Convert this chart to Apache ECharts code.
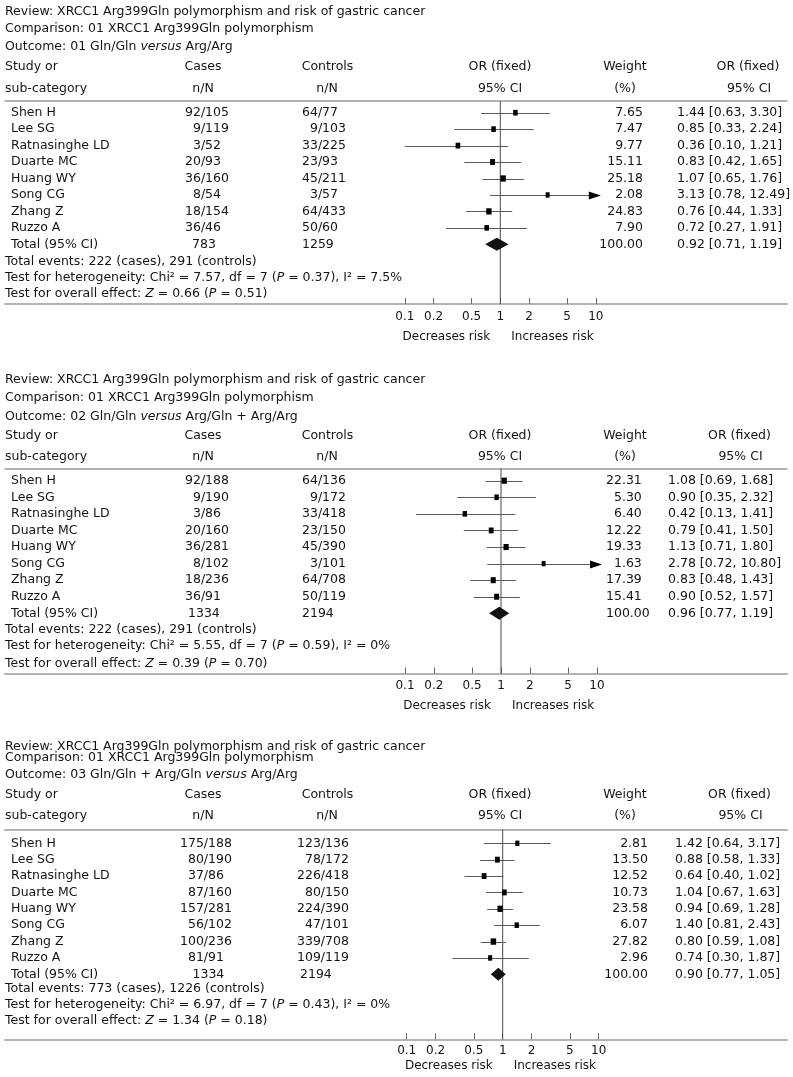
<!DOCTYPE html>
<html>
<head>
<meta charset="utf-8">
<script src="https://cdn.jsdelivr.net/npm/echarts@6/dist/echarts.min.js"></script>
<style>
html,body{margin:0;padding:0;background:#fff;}
#c{width:793px;height:1077px;}
</style>
</head>
<body>
<div id="c"></div>
<script>
// ---------------- DATA ----------------
const studies = ['Shen H', 'Lee SG', 'Ratnasinghe LD', 'Duarte MC', 'Huang WY', 'Song CG', 'Zhang Z', 'Ruzzo A'];
const tickValues = [0.1, 0.2, 0.5, 1, 2, 5, 10];
const nullOR = 1;

const outcomeLabels = [
  '01 Gln/Gln {i|versus} Arg/Arg',
  '02 Gln/Gln {i|versus} Arg/Gln + Arg/Arg',
  '03 Gln/Gln + Arg/Gln {i|versus} Arg/Arg'
];

// Outcome 01
const cases1 = ['92/105', '9/119', '3/52', '20/93', '36/160', '8/54', '18/154', '36/46'];
const controls1 = ['64/77', '9/103', '33/225', '23/93', '45/211', '3/57', '64/433', '50/60'];
const weight1 = [7.65, 7.47, 9.77, 15.11, 25.18, 2.08, 24.83, 7.90];
const or1 = [1.44, 0.85, 0.36, 0.83, 1.07, 3.13, 0.76, 0.72];
const lo1 = [0.63, 0.33, 0.10, 0.42, 0.65, 0.78, 0.44, 0.27];
const hi1 = [3.30, 2.24, 1.21, 1.65, 1.76, 12.49, 1.33, 1.91];

// Outcome 02
const cases2 = ['92/188', '9/190', '3/86', '20/160', '36/281', '8/102', '18/236', '36/91'];
const controls2 = ['64/136', '9/172', '33/418', '23/150', '45/390', '3/101', '64/708', '50/119'];
const weight2 = [22.31, 5.30, 6.40, 12.22, 19.33, 1.63, 17.39, 15.41];
const or2 = [1.08, 0.90, 0.42, 0.79, 1.13, 2.78, 0.83, 0.90];
const lo2 = [0.69, 0.35, 0.13, 0.41, 0.71, 0.72, 0.48, 0.52];
const hi2 = [1.68, 2.32, 1.41, 1.50, 1.80, 10.80, 1.43, 1.57];

// Outcome 03
const cases3 = ['175/188', '80/190', '37/86', '87/160', '157/281', '56/102', '100/236', '81/91'];
const controls3 = ['123/136', '78/172', '226/418', '80/150', '224/390', '47/101', '339/708', '109/119'];
const weight3 = [2.81, 13.50, 12.52, 10.73, 23.58, 6.07, 27.82, 2.96];
const or3 = [1.42, 0.88, 0.64, 1.04, 0.94, 1.40, 0.80, 0.74];
const lo3 = [0.64, 0.58, 0.40, 0.67, 0.69, 0.81, 0.59, 0.30];
const hi3 = [3.17, 1.33, 1.02, 1.63, 1.28, 2.43, 1.08, 1.87];

// Totals / tests per outcome
const totalCases = [783, 1334, 1334];
const totalControls = [1259, 2194, 2194];
const totalOR = [0.92, 0.96, 0.90];
const totalLo = [0.71, 0.77, 0.77];
const totalHi = [1.19, 1.19, 1.05];
const eventsCases = [222, 222, 773];
const eventsControls = [291, 291, 1226];
const chi2 = ['7.57', '5.55', '6.97'];
const dfHet = [7, 7, 7];
const pHet = ['0.37', '0.59', '0.43'];
const i2 = ['7.5%', '0%', '0%'];
const zOverall = ['0.66', '0.39', '1.34'];
const pOverall = ['0.51', '0.70', '0.18'];

// ---------------- LAYOUT / STYLE ----------------
const FONT = 'DejaVu Sans';
const FS = 12.5;
const INK = '#141414';
const RULE = '#9a9a9a';
const PAGE_LEFT = 5, PAGE_RIGHT = 787;
const FIG = '\u2007';
const LAYOUT = [
  {title: [11.7, 29, 46.5], hdr: [66.7, 88.3], rule: 101, y0: 112.7, pitch: 16.45, foot: [261.7, 277.7, 293.3],
   axis: 304, tickLab: 316.7, risk: 337, c: 500.3, d: 95.5,
   casesX: 185, ctrlX: 302, pad: 2, totCasesX: 192, totCtrlX: 302,
   wAlign: 'right', wX: 643, orX: 677, orHdrX: 748},
  {title: [380, 397.5, 416.7], hdr: [436.2, 456.7], rule: 468.5, y0: 480.7, pitch: 16.58, foot: [630, 645.5, 663.5],
   axis: 673.5, tickLab: 686, risk: 706, c: 501, d: 96,
   casesX: 185, ctrlX: 302, pad: 2, totCasesX: 188, totCtrlX: 302,
   wAlign: 'left', wX: 606, orX: 668, orHdrX: 739.5},
  {title: [746.7, 757.5, 775], hdr: [795, 815.3], rule: 829.5, y0: 843.3, pitch: 16.38, foot: [988.3, 1004.5, 1020.7],
   axis: 1039.3, tickLab: 1050.7, risk: 1066, c: 502.7, d: 96,
   casesX: 180, ctrlX: 297, pad: 3, totCasesX: 192.5, totCtrlX: 300,
   wAlign: 'right', wX: 648, orX: 675, orHdrX: 739.5}
];

const PANELS = [
  {cases: cases1, controls: controls1, weight: weight1, or: or1, lo: lo1, hi: hi1},
  {cases: cases2, controls: controls2, weight: weight2, or: or2, lo: lo2, hi: hi2},
  {cases: cases3, controls: controls3, weight: weight3, or: or3, lo: lo3, hi: hi3}
];

const log10 = Math.log10;
const logTicks = tickValues.map(log10);
const ARROW_LIMIT = log10(tickValues[tickValues.length - 1]);

function padFrac(s, n) {
  const parts = s.split('/');
  return parts[0].padStart(n, FIG) + '/' + parts[1];
}
function ciText(o, l, h) {
  return o.toFixed(2) + ' [' + l.toFixed(2) + ', ' + h.toFixed(2) + ']';
}

function studyItem(params, api) {
  const row = api.value(0), est = api.value(1), lo = api.value(2), hi = api.value(3), wt = api.value(4);
  const arrow = hi > ARROW_LIMIT;
  const pE = api.coord([est, row]);
  const pL = api.coord([lo, row]);
  const pH = api.coord([arrow ? ARROW_LIMIT : hi, row]);
  const y = Math.round(pE[1]) + 0.5;
  const children = [];
  const x2 = arrow ? pH[0] + 2 : pH[0];
  children.push({type: 'line', shape: {x1: pL[0], y1: y, x2: x2, y2: y},
    style: {stroke: '#5a5a5a', lineWidth: 1}});
  const bw = 3.4 + Math.sqrt(wt) * 0.4;
  const bh = 5 + Math.sqrt(wt) * 0.25;
  children.push({type: 'rect', shape: {x: pE[0] - bw / 2, y: pE[1] - bh / 2, width: bw, height: bh},
    style: {fill: '#000'}});
  if (arrow) {
    const tip = pH[0] + 5;
    children.push({type: 'polygon', shape: {points: [[tip - 12, y - 4], [tip, y], [tip - 12, y + 4]]},
      style: {fill: '#000'}});
  }
  return {type: 'group', children: children};
}

function diamondItem(params, api) {
  const row = api.value(0);
  const pE = api.coord([api.value(1), row]);
  const pL = api.coord([api.value(2), row]);
  const pH = api.coord([api.value(3), row]);
  const h = 6.5;
  return {type: 'polygon', shape: {points: [[pL[0] - 1, pE[1]], [pE[0], pE[1] - h], [pH[0] + 1, pE[1]], [pE[0], pE[1] + h]]},
    style: {fill: '#111'}};
}

const grids = [], xAxes = [], yAxes = [], series = [];
PANELS.forEach(function (P, p) {
  const L = LAYOUT[p];
  const xmin = (PAGE_LEFT - L.c) / L.d, xmax = (PAGE_RIGHT - L.c) / L.d;
  const ymin = (L.rule - L.y0) / L.pitch, ymax = (L.axis - L.y0) / L.pitch;
  grids.push({left: PAGE_LEFT, width: PAGE_RIGHT - PAGE_LEFT, top: L.rule, height: L.axis - L.rule});
  xAxes.push({
    type: 'value', gridIndex: p, position: 'bottom', min: xmin, max: xmax,
    splitLine: {show: false},
    axisLine: {show: true, onZero: false, lineStyle: {color: RULE, width: 1.6}},
    axisTick: {show: true, inside: true, length: 6, customValues: logTicks, lineStyle: {color: '#666', width: 1}},
    axisLabel: {show: true, customValues: logTicks, margin: L.tickLab - L.axis - 6, fontSize: 12,
      fontFamily: FONT, color: INK, hideOverlap: false,
      formatter: function (v) { return String(Math.round(Math.pow(10, v) * 10) / 10); }}
  });
  xAxes.push({
    type: 'value', gridIndex: p, position: 'top', min: xmin, max: xmax,
    splitLine: {show: false},
    axisLine: {show: true, onZero: false, lineStyle: {color: RULE, width: 1.6}},
    axisTick: {show: false}, axisLabel: {show: false}
  });
  yAxes.push({type: 'value', gridIndex: p, inverse: true, min: ymin, max: ymax, show: false});

  series.push({
    type: 'line', xAxisIndex: 2 * p, yAxisIndex: p, z: 1, silent: true, symbol: 'none',
    lineStyle: {color: '#4a4a4a', width: 1},
    data: [[log10(nullOR), ymin], [log10(nullOR), ymax]]
  });
  series.push({
    type: 'custom', xAxisIndex: 2 * p, yAxisIndex: p, z: 3, silent: true,
    renderItem: studyItem,
    encode: {x: [1, 2, 3], y: 0},
    data: studies.map(function (s, i) {
      return [i, log10(P.or[i]), log10(P.lo[i]), log10(P.hi[i]), P.weight[i]];
    })
  });
  series.push({
    type: 'custom', xAxisIndex: 2 * p, yAxisIndex: p, z: 3, silent: true,
    renderItem: diamondItem,
    encode: {x: [1, 2, 3], y: 0},
    data: [[studies.length, log10(totalOR[p]), log10(totalLo[p]), log10(totalHi[p])]]
  });
});

const chart = echarts.init(document.getElementById('c'), null, {renderer: 'canvas', width: 793, height: 1077});
chart.setOption({
  animation: false,
  backgroundColor: '#fff',
  grid: grids, xAxis: xAxes, yAxis: yAxes, series: series
});

// ---------------- TEXT ----------------
const RICH = {
  i: {fontStyle: 'italic', fontSize: FS, fontFamily: FONT, fill: INK}
};
function txt(x, y, s, align, size) {
  return {type: 'text', x: x, y: y, silent: true, z: 10,
    style: {text: s, fill: INK, fontSize: size || FS, fontFamily: FONT,
      align: align || 'left', verticalAlign: 'middle', rich: RICH}};
}
const graphics = [];
PANELS.forEach(function (P, p) {
  const L = LAYOUT[p];
  const rowY = function (i) { return chart.convertToPixel({yAxisIndex: p}, i); };
  graphics.push(txt(5, L.title[0], 'Review: XRCC1 Arg399Gln polymorphism and risk of gastric cancer'));
  graphics.push(txt(5, L.title[1], 'Comparison: 01 XRCC1 Arg399Gln polymorphism'));
  graphics.push(txt(5, L.title[2], 'Outcome: ' + outcomeLabels[p]));
  graphics.push(txt(5, L.hdr[0], 'Study or'));
  graphics.push(txt(5, L.hdr[1], 'sub-category'));
  graphics.push(txt(203, L.hdr[0], 'Cases', 'center'));
  graphics.push(txt(203, L.hdr[1], 'n/N', 'center'));
  graphics.push(txt(327.5, L.hdr[0], 'Controls', 'center'));
  graphics.push(txt(327, L.hdr[1], 'n/N', 'center'));
  graphics.push(txt(500, L.hdr[0], 'OR (fixed)', 'center'));
  graphics.push(txt(500, L.hdr[1], '95% CI', 'center'));
  graphics.push(txt(625, L.hdr[0], 'Weight', 'center'));
  graphics.push(txt(625, L.hdr[1], '(%)', 'center'));
  graphics.push(txt(L.orHdrX, L.hdr[0], 'OR (fixed)', 'center'));
  graphics.push(txt(L.orHdrX + 1, L.hdr[1], '95% CI', 'center'));

  studies.forEach(function (s, i) {
    const y = rowY(i);
    graphics.push(txt(11, y, s));
    graphics.push(txt(L.casesX, y, padFrac(P.cases[i], L.pad)));
    graphics.push(txt(L.ctrlX, y, padFrac(P.controls[i], L.pad)));
    const w = P.weight[i].toFixed(2);
    graphics.push(txt(L.wX, y, L.wAlign === 'left' ? w.padStart(5, FIG) : w, L.wAlign));
    graphics.push(txt(L.orX, y, ciText(P.or[i], P.lo[i], P.hi[i])));
  });
  const yt = rowY(studies.length);
  graphics.push(txt(11, yt, 'Total (95% CI)'));
  graphics.push(txt(L.totCasesX, yt, String(totalCases[p])));
  graphics.push(txt(L.totCtrlX, yt, String(totalControls[p])));
  graphics.push(txt(L.wX, yt, (100).toFixed(2), L.wAlign));
  graphics.push(txt(L.orX, yt, ciText(totalOR[p], totalLo[p], totalHi[p])));

  graphics.push(txt(5, L.foot[0], 'Total events: ' + eventsCases[p] + ' (cases), ' + eventsControls[p] + ' (controls)'));
  graphics.push(txt(5, L.foot[1], 'Test for heterogeneity: Chi\u00b2 = ' + chi2[p] + ', df = ' + dfHet[p] +
    ' ({i|P} = ' + pHet[p] + '), I\u00b2 = ' + i2[p]));
  graphics.push(txt(5, L.foot[2], 'Test for overall effect: {i|Z} = ' + zOverall[p] + ' ({i|P} = ' + pOverall[p] + ')'));

  graphics.push(txt(L.c - 10, L.risk, 'Decreases risk', 'right', 12));
  graphics.push(txt(L.c + 11, L.risk, 'Increases risk', 'left', 12));
});
chart.setOption({graphic: graphics});
</script>
</body>
</html>
